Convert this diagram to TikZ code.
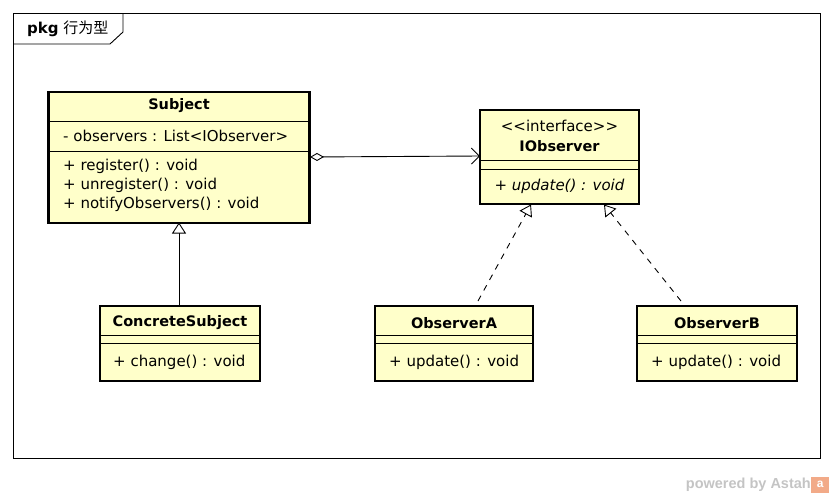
\documentclass[tikz,border=0pt]{standalone}
\usepackage{fontspec}
\setmainfont{DejaVu Sans}
\newfontfamily\cjk{Noto Sans CJK SC}
\newfontfamily\wm{Liberation Sans}
\usetikzlibrary{arrows.meta}
\definecolor{clsfill}{HTML}{FFFFCA}
\definecolor{wmgray}{HTML}{C4C4C4}
\definecolor{wmorange}{HTML}{F2AA88}
\tikzset{
  cls/.style={draw, line width=2.4pt, fill=clsfill, inner sep=0pt},
  txt/.style={inner sep=0pt, font=\fontsize{15}{17}\selectfont, anchor=center},
  btxt/.style={txt, font=\fontsize{14.5}{17}\selectfont\bfseries},
  ltxt/.style={txt, anchor=west},
  sep/.style={line width=0.9pt},
  conn/.style={line width=0.9pt},
}
\begin{document}
\begin{tikzpicture}[x=1pt,y=-1pt]
\useasboundingbox (0,0) rectangle (833,498);
% frame
\draw[line width=0.9pt] (13,13) rectangle (820,458);
\draw[line width=0.9pt] (13,44) -- (110,44) -- (123,32) -- (123,13);
\node[ltxt, font=\fontsize{15}{17}\selectfont] (pkg) at (27,29) {\textbf{pkg} {\cjk 行为型}};

% Subject
\node[cls, minimum width=261pt, minimum height=131pt] (subj) at (179,157.5) {};
\draw[sep] (49,121) -- (309,121);
\draw[sep] (49,151) -- (309,151);
\node[btxt] (subjname) at (179,106) {Subject};
\node[ltxt] (subjattr) at (63,136) {- observers : List{<}IObserver{>}};
\node[ltxt] (subjop1) at (63,166) {+ register() : void};
\node[ltxt] (subjop2) at (63,185) {+ unregister() : void};
\node[ltxt] (subjop3) at (63,204) {+ notifyObservers() : void};

% IObserver
\node[cls, minimum width=159pt, minimum height=94pt] (iobs) at (559.5,157) {};
\draw[sep] (480,160) -- (639,160);
\draw[sep] (480,169) -- (639,169);
\node[txt] (stereo) at (559.5,126) {{<}{<}interface{>}{>}};
\node[btxt] (iobsname) at (559.5,146) {IObserver};
\node[txt] (iobsop) at (559.5,186) {\textit{+ update() : void}};

% ConcreteSubject
\node[cls, minimum width=160pt, minimum height=75pt] (cs) at (180,343.5) {};
\draw[sep] (100,335) -- (260,335);
\draw[sep] (100,343) -- (260,343);
\node[btxt] (csname) at (180,323) {ConcreteSubject};
\node[ltxt] (csop) at (113,362) {+ change() : void};

% ObserverA
\node[cls, minimum width=158pt, minimum height=75pt] (oa) at (454,343.5) {};
\draw[sep] (375,335) -- (533,335);
\draw[sep] (375,343) -- (533,343);
\node[btxt] (oaname) at (454,323) {ObserverA};
\node[ltxt] (oaop) at (389,362) {+ update() : void};

% ObserverB
\node[cls, minimum width=160pt, minimum height=75pt] (ob) at (717,343.5) {};
\draw[sep] (637,335) -- (797,335);
\draw[sep] (637,343) -- (797,343);
\node[btxt] (obname) at (717,323) {ObserverB};
\node[ltxt] (obop) at (651,362) {+ update() : void};

% connectors
\coordinate (aggS) at (310,157);
\coordinate (aggE) at (480,156);
\draw[conn, {Diamond[open,length=14pt,width=8pt]}-{Straight Barb[length=8pt,width=16pt]}] (aggS) -- (aggE);

\coordinate (genTop) at (179,222.5);
\coordinate (genBot) at (179,306);
\draw[conn, -{Triangle[open,length=11pt,width=14pt,fill=white]}] (genBot) -- (genTop);

\coordinate (rAs) at (478,301);
\coordinate (rAe) at (531,204.5);
\draw[conn, dashed, dash pattern=on 6pt off 6pt, -{Triangle[open,length=11pt,width=14pt,fill=white]}] (rAs) -- (rAe);
\coordinate (rBs) at (681,301);
\coordinate (rBe) at (604,204.5);
\draw[conn, dashed, dash pattern=on 6pt off 6pt, -{Triangle[open,length=11pt,width=14pt,fill=white]}] (rBs) -- (rBe);

% watermark
\node[anchor=east, inner sep=0pt, text=wmgray, font=\wm\bfseries\fontsize{14.5}{16}\selectfont] (wmk) at (811,485) {powered by Astah};
\node[fill=wmorange, minimum width=18pt, minimum height=16pt, inner sep=0pt, anchor=west, text=white, font=\wm\bfseries\fontsize{12}{12}\selectfont] (logo) at (811,484.5) {a};
\end{tikzpicture}
\end{document}
